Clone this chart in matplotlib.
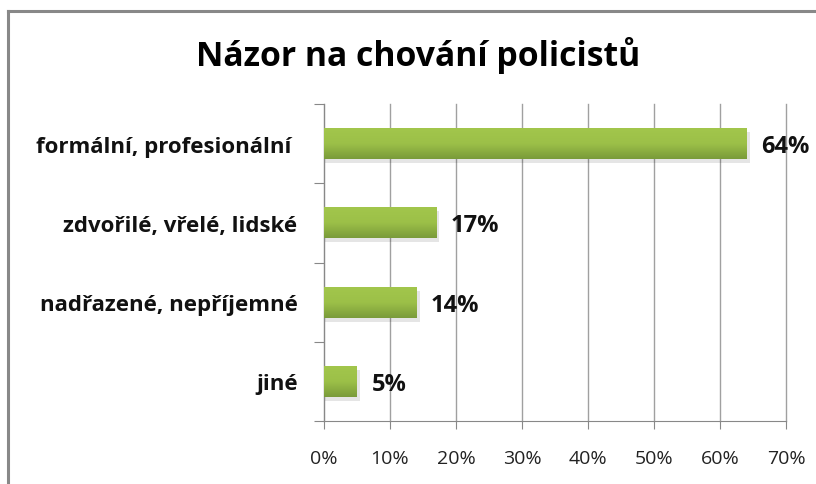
import numpy as np
import matplotlib.pyplot as plt
from matplotlib.patches import Rectangle
from matplotlib.ticker import FuncFormatter

plt.rcParams["font.family"] = ["Open Sans", "DejaVu Sans"]

CATEGORIES = ["formální, profesionální ", "zdvořilé, vřelé, lidské",
              "nadřazené, nepříjemné", "jiné"]
VALUES = [64, 17, 14, 5]
TITLE = "Názor na chování policistů"
X_TICKS = [0, 10, 20, 30, 40, 50, 60, 70]

W, H = 816, 485
fig = plt.figure(figsize=(W / 100, H / 100), dpi=100)

# chart frame (only top and left edges are visible in the original)
fig.add_artist(plt.Line2D([8 / W, 8 / W], [0, 1 - 12 / H], color="#888888",
                          lw=2.2, transform=fig.transFigure))
fig.add_artist(plt.Line2D([8 / W, 1], [1 - 12 / H, 1 - 12 / H],
                          color="#888888", lw=2.2, transform=fig.transFigure))

ax = fig.add_axes([324 / W, 1 - 422 / H, (786 - 324) / W, (422 - 105) / H])

y = np.arange(len(CATEGORIES))
bar_h = 0.39

# gradient fill for bars: lighter at the top, darker at the bottom
grad = np.linspace(0, 1, 64).reshape(-1, 1)
cmap = plt.matplotlib.colors.LinearSegmentedColormap.from_list(
    "g", ["#a2c64c", "#9cc048", "#7a9b3a"])
for yi, v in zip(y, VALUES):
    # soft shadow
    ax.add_patch(Rectangle((0.2, yi - bar_h / 2 + 0.05), v + 0.3, bar_h,
                           facecolor="#000000", alpha=0.10, lw=0, zorder=2))
    ax.imshow(grad, cmap=cmap, aspect="auto", zorder=3,
              extent=(0, v, yi + bar_h / 2, yi - bar_h / 2),
              origin="upper")
    ax.text(v + 2.2, yi + 0.03, f"{v}%", va="center", ha="left", fontsize=17,
            fontweight="bold", color="#111111")

ax.set_xlim(0, 70)
ax.set_ylim(len(CATEGORIES) - 0.5, -0.5)
ax.set_xticks(X_TICKS)
ax.xaxis.set_major_formatter(FuncFormatter(lambda v, p: f"{v:.0f}%"))
ax.grid(axis="x", color="#a0a0a0", lw=1.0, zorder=0)
for gl in ax.get_xgridlines():
    gl.set_clip_on(False)
ax.set_axisbelow(True)

# y ticks at category boundaries, labels centered
ax.set_yticks(np.arange(len(CATEGORIES) + 1) - 0.5)
ax.set_yticklabels([])
ax.set_yticks(y, minor=True)
ax.set_yticklabels(CATEGORIES, minor=True, fontsize=16, fontweight="bold",
                   color="#111111")
ax.tick_params(axis="y", which="minor", length=0, pad=19)
ax.tick_params(axis="y", which="major", length=7, color="#888888")
ax.tick_params(axis="x", length=6, color="#888888", labelsize=14,
               labelcolor="#222222", pad=14)

for s in ["top", "right"]:
    ax.spines[s].set_visible(False)
ax.spines["left"].set_color("#888888")
ax.spines["bottom"].set_color("#888888")

fig.text(418 / W, 1 - 55 / H, TITLE, ha="center", va="center", fontsize=24.3,
         fontweight="bold", color="#000000")

fig.savefig("out.png", dpi=100)
